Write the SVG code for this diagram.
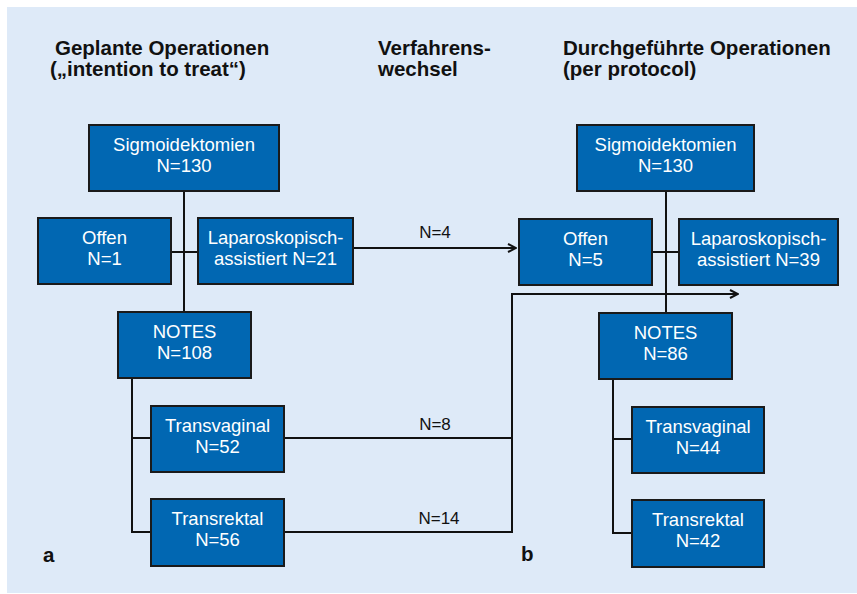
<svg xmlns="http://www.w3.org/2000/svg" width="857" height="594" viewBox="0 0 857 594">
<defs>
<style>
.bg{fill:#deeaf8}
.box{fill:#0167b2;stroke:#1a1a1a;stroke-width:2}
.bt{font-family:"Liberation Sans",Arial,sans-serif;font-size:18.5px;fill:#ffffff;text-anchor:middle}
.h{font-family:"Liberation Sans",Arial,sans-serif;font-size:20.5px;font-weight:bold;fill:#111111}
.lbl{font-family:"Liberation Sans",Arial,sans-serif;font-size:17px;fill:#111111;text-anchor:middle}
.ln{fill:none;stroke:#111111;stroke-width:2}
</style>
<marker id="arr" viewBox="0 0 10 10" refX="9" refY="5" markerWidth="10" markerHeight="10" markerUnits="userSpaceOnUse" orient="auto">
<path d="M1,1 L9,5 L1,9" fill="none" stroke="#111111" stroke-width="2"/>
</marker>
</defs>
<rect class="bg" x="7" y="7" width="850" height="586"/>

<g id="headings">
<text class="h" x="55" y="55">Geplante Operationen</text>
<text class="h" x="50" y="76">(„intention to treat“)</text>
<text class="h" x="378" y="55">Verfahrens-</text>
<text class="h" x="378" y="76">wechsel</text>
<text class="h" x="563" y="55">Durchgeführte Operationen</text>
<text class="h" x="563" y="76">(per protocol)</text>
<text class="h" x="43" y="562">a</text>
<text class="h" x="521" y="561">b</text>
</g>

<g id="connectors">
<path class="ln" d="M184,191 V312"/>
<path class="ln" d="M171,252 H198"/>
<path class="ln" d="M132,378 V532 H151"/>
<path class="ln" d="M132,438 H151"/>
<path class="ln" d="M353,248 H516" marker-end="url(#arr)"/>
<path class="ln" d="M284,438 H512"/>
<path class="ln" d="M284,532 H512 V294 H738" marker-end="url(#arr)"/>
<path class="ln" d="M666,191 V313"/>
<path class="ln" d="M652,252 H679"/>
<path class="ln" d="M613,379 V533 H632"/>
<path class="ln" d="M613,439 H632"/>
<text class="lbl" x="435" y="238">N=4</text>
<text class="lbl" x="435" y="430">N=8</text>
<text class="lbl" x="439" y="524">N=14</text>
</g>

<g id="l-sigmoid">
<rect class="box" x="89" y="125" width="190" height="66"/>
<text class="bt" x="184" y="151">Sigmoidektomien</text>
<text class="bt" x="184" y="172">N=130</text>
</g>
<g id="l-offen">
<rect class="box" x="38" y="218" width="133" height="66"/>
<text class="bt" x="104.5" y="244">Offen</text>
<text class="bt" x="104.5" y="265">N=1</text>
</g>
<g id="l-lap">
<rect class="box" x="198" y="218" width="155" height="66"/>
<text class="bt" x="275.5" y="244">Laparoskopisch-</text>
<text class="bt" x="275.5" y="265">assistiert N=21</text>
</g>
<g id="l-notes">
<rect class="box" x="118" y="312" width="133" height="66"/>
<text class="bt" x="184.5" y="338">NOTES</text>
<text class="bt" x="184.5" y="359">N=108</text>
</g>
<g id="l-tv">
<rect class="box" x="151" y="406" width="133" height="66"/>
<text class="bt" x="217.5" y="432">Transvaginal</text>
<text class="bt" x="217.5" y="453">N=52</text>
</g>
<g id="l-tr">
<rect class="box" x="151" y="499" width="133" height="67"/>
<text class="bt" x="217.5" y="525">Transrektal</text>
<text class="bt" x="217.5" y="546">N=56</text>
</g>

<g id="r-sigmoid">
<rect class="box" x="577" y="125" width="177" height="66"/>
<text class="bt" x="665.5" y="151">Sigmoidektomien</text>
<text class="bt" x="665.5" y="172">N=130</text>
</g>
<g id="r-offen">
<rect class="box" x="519" y="219" width="133" height="66"/>
<text class="bt" x="585.5" y="245">Offen</text>
<text class="bt" x="585.5" y="266">N=5</text>
</g>
<g id="r-lap">
<rect class="box" x="679" y="219" width="159" height="66"/>
<text class="bt" x="758.5" y="245">Laparoskopisch-</text>
<text class="bt" x="758.5" y="266">assistiert N=39</text>
</g>
<g id="r-notes">
<rect class="box" x="599" y="313" width="133" height="66"/>
<text class="bt" x="665.5" y="339">NOTES</text>
<text class="bt" x="665.5" y="360">N=86</text>
</g>
<g id="r-tv">
<rect class="box" x="632" y="407" width="132" height="66"/>
<text class="bt" x="698" y="433">Transvaginal</text>
<text class="bt" x="698" y="454">N=44</text>
</g>
<g id="r-tr">
<rect class="box" x="632" y="500" width="132" height="67"/>
<text class="bt" x="698" y="526">Transrektal</text>
<text class="bt" x="698" y="547">N=42</text>
</g>
</svg>
